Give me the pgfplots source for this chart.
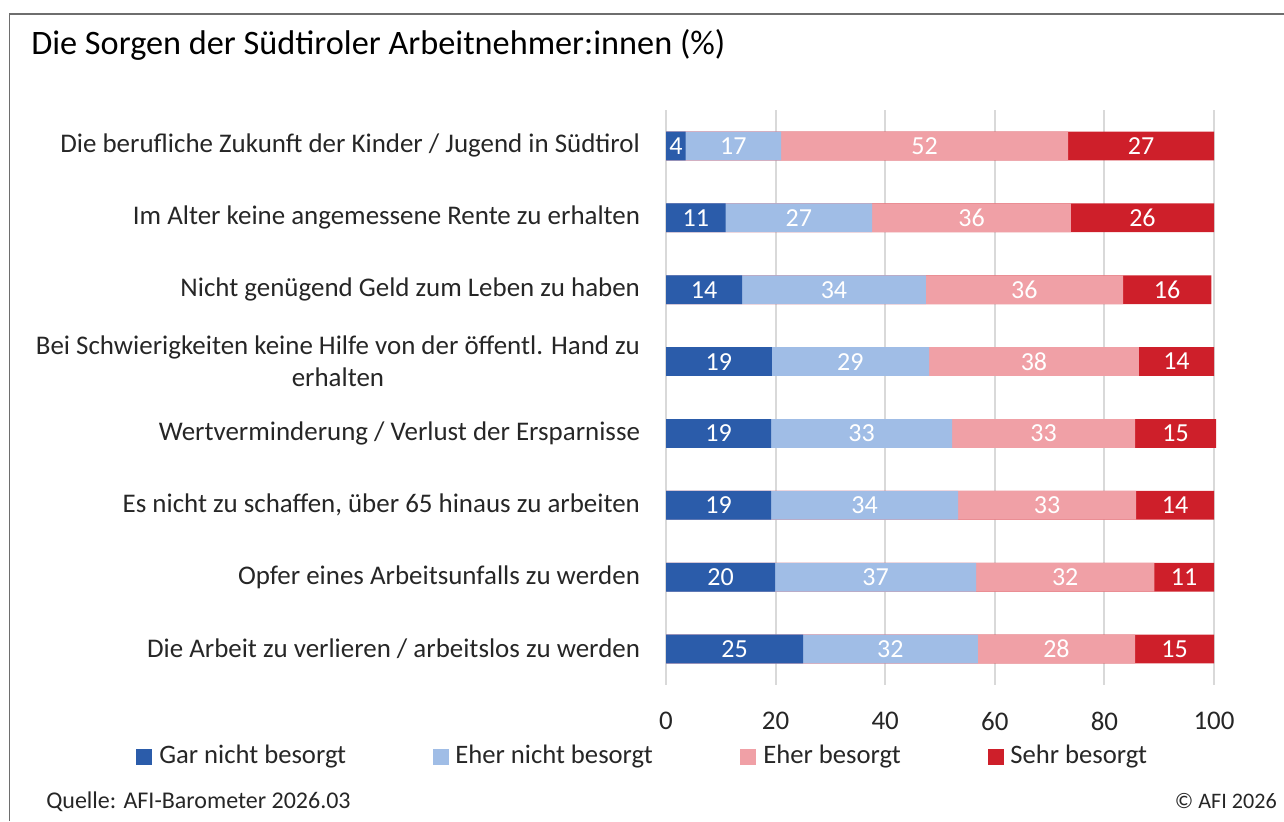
\documentclass[border=0pt]{standalone}
\usepackage{pgfplots}
\pgfplotsset{compat=1.18}
\usepackage{fontspec}
\setmainfont{Carlito}
\definecolor{cA}{RGB}{43,92,170}
\definecolor{cB}{RGB}{160,189,230}
\definecolor{cC}{RGB}{240,160,166}
\definecolor{cD}{RGB}{206,31,42}
\definecolor{gridc}{RGB}{217,217,217}
\definecolor{framec}{RGB}{110,110,110}
\definecolor{txt}{RGB}{38,38,38}
\newcommand\labfont{\fontsize{20.2}{24}\selectfont}
\newcommand\legfont{\fontsize{20}{24}\selectfont}
\newcommand\barfont{\fontsize{19.5}{23}\selectfont}
\begin{document}
\begin{tikzpicture}
\begin{scope}[x=0.75pt,y=-0.75pt]
\path[use as bounding box] (0,0) rectangle (1284,821);
\draw[framec, line width=1.1pt] (9.5,821) -- (9.5,14) -- (1284,14);
\node[anchor=base west, inner sep=0, text=black, font=\fontsize{25.7}{30}\selectfont] at (31,54) {Die Sorgen der Südtiroler Arbeitnehmer:innen (\%)};
% legend
\fill[cA] (136,749) rectangle (152,765);
\node[anchor=west, inner sep=0, text=txt, font=\legfont] at (159,757) {Gar nicht besorgt};
\fill[cB] (433,749) rectangle (449,765);
\node[anchor=west, inner sep=0, text=txt, font=\legfont] at (455,757) {Eher nicht besorgt};
\fill[cC] (740,749) rectangle (756,765);
\node[anchor=west, inner sep=0, text=txt, font=\legfont] at (763,757) {Eher besorgt};
\fill[cD] (988,749) rectangle (1004,765);
\node[anchor=west, inner sep=0, text=txt, font=\legfont] at (1010,757) {Sehr besorgt};
% footer
\node[anchor=base west, inner sep=0, text=txt, font=\fontsize{18}{21}\selectfont] at (46,808) {Quelle: AFI-Barometer 2026.03};
\node[anchor=base east, inner sep=0, text=txt, font=\fontsize{16.6}{19}\selectfont] at (1277,808) {© AFI 2026};
\end{scope}
\begin{axis}[
  at={(499.5pt,-513.75pt)}, anchor=south west,
  width=411pt, height=431.25pt, scale only axis,
  xmin=0, xmax=100, ymin=0.5, ymax=8.5, y dir=reverse,
  xtick={0,20,...,100}, ytick={1,...,8},
  yticklabels={
    {Die berufliche Zukunft der Kinder / Jugend in Südtirol},
    {Im Alter keine angemessene Rente zu erhalten},
    {Nicht genügend Geld zum Leben zu haben},
    {Bei Schwierigkeiten keine Hilfe von der öffentl. Hand zu\\erhalten},
    {Wertverminderung / Verlust der Ersparnisse},
    {Es nicht zu schaffen, über 65 hinaus zu arbeiten},
    {Opfer eines Arbeitsunfalls zu werden},
    {Die Arbeit zu verlieren / arbeitslos zu werden}},
  xmajorgrids, grid style={gridc, line width=1.5pt},
  axis line style={draw=none}, major tick length=0pt,
  /pgf/number format/assume math mode=true,
  tick label style={font=\labfont, text=txt},
  xticklabel style={yshift=-17pt},
  yticklabel style={align=center, xshift=-16pt},
  bar width=0.4,
  clip=false,
]
\addplot[xbar, bar shift=0pt, fill=cD, draw=none] coordinates {(100,1) (100,2) (99.5,3) (100,4) (100.4,5) (100,6) (100,7) (100,8)};
\addplot[xbar, bar shift=0pt, fill=cC, draw=none] coordinates {(73.4,1) (73.9,2) (83.4,3) (86.3,4) (85.6,5) (85.8,6) (89.1,7) (85.6,8)};
\addplot[xbar, bar shift=0pt, fill=cB, draw=none] coordinates {(21.0,1) (37.6,2) (47.4,3) (48.0,4) (52.2,5) (53.3,6) (56.6,7) (56.9,8)};
\addplot[xbar, bar shift=0pt, fill=cA, draw=none] coordinates {(3.6,1) (10.9,2) (13.9,3) (19.3,4) (19.2,5) (19.2,6) (19.9,7) (25.0,8)};
\addplot[only marks, mark=none, point meta=explicit symbolic, nodes near coords,
  nodes near coords style={anchor=center, inner sep=0, text=white, font=\barfont}]
  coordinates {
  (1.8,1) [4] (12.3,1) [17] (47.2,1) [52] (86.7,1) [27]
  (5.45,2) [11] (24.25,2) [27] (55.75,2) [36] (86.95,2) [26]
  (6.95,3) [14] (30.65,3) [34] (65.4,3) [36] (91.45,3) [16]
  (9.65,4) [19] (33.65,4) [29] (67.15,4) [38] (93.15,4) [14]
  (9.6,5) [19] (35.7,5) [33] (68.9,5) [33] (93.0,5) [15]
  (9.6,6) [19] (36.25,6) [34] (69.55,6) [33] (92.9,6) [14]
  (9.95,7) [20] (38.25,7) [37] (72.85,7) [32] (94.55,7) [11]
  (12.5,8) [25] (40.95,8) [32] (71.25,8) [28] (92.8,8) [15]
  };
\end{axis}
\end{tikzpicture}
\end{document}
